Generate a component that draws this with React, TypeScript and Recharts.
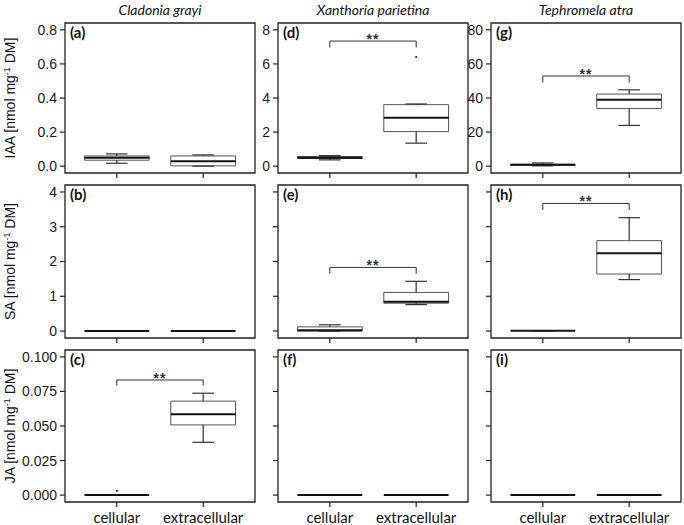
import React from 'react';
import {
  ComposedChart,
  XAxis,
  YAxis,
  Scatter,
  ReferenceLine,
  ReferenceArea,
  ReferenceDot,
} from 'recharts';

// ---------- data ----------
const categories = ['cellular', 'extracellular'];
const speciesTitles = ['Cladonia grayi', 'Xanthoria parietina', 'Tephromela atra'];
const hormoneLabels = ['IAA', 'SA', 'JA'];
const panelLetters = [
  ['(a)', '(d)', '(g)'],
  ['(b)', '(e)', '(h)'],
  ['(c)', '(f)', '(i)'],
];

// y ticks
const ticksIAAc = [0, 0.2, 0.4, 0.6, 0.8];
const ticksIAAx = [0, 2, 4, 6, 8];
const ticksIAAt = [0, 20, 40, 60, 80];
const ticksSA = [0, 1, 2, 3, 4];
const ticksJA = [0, 0.025, 0.05, 0.075, 0.1];

type Box = { x: number; low: number; q1: number; median: number; q3: number; high: number };

// box statistics per panel (cellular = 1, extracellular = 2)
const boxesA: Box[] = [
  { x: 1, low: 0.017, q1: 0.035, median: 0.049, q3: 0.06, high: 0.072 },
  { x: 2, low: 0.0, q1: 0.002, median: 0.029, q3: 0.06, high: 0.066 },
];
const boxesB: Box[] = [
  { x: 1, low: 0, q1: 0, median: 0, q3: 0, high: 0 },
  { x: 2, low: 0, q1: 0, median: 0, q3: 0, high: 0 },
];
const boxesC: Box[] = [
  { x: 1, low: 0, q1: 0, median: 0, q3: 0, high: 0 },
  { x: 2, low: 0.0382, q1: 0.0508, median: 0.0585, q3: 0.068, high: 0.0737 },
];
const boxesD: Box[] = [
  { x: 1, low: 0.37, q1: 0.45, median: 0.5, q3: 0.57, high: 0.62 },
  { x: 2, low: 1.35, q1: 2.03, median: 2.84, q3: 3.61, high: 3.65 },
];
const boxesE: Box[] = [
  { x: 1, low: 0, q1: 0, median: 0.02, q3: 0.12, high: 0.18 },
  { x: 2, low: 0.76, q1: 0.8, median: 0.84, q3: 1.11, high: 1.43 },
];
const boxesF: Box[] = [
  { x: 1, low: 0, q1: 0, median: 0, q3: 0, high: 0 },
  { x: 2, low: 0, q1: 0, median: 0, q3: 0, high: 0 },
];
const boxesG: Box[] = [
  { x: 1, low: 0.2, q1: 0.5, median: 0.8, q3: 1.1, high: 1.9 },
  { x: 2, low: 23.9, q1: 33.8, median: 39.0, q3: 42.3, high: 44.8 },
];
const boxesH: Box[] = [
  { x: 1, low: 0.01, q1: 0.01, median: 0.01, q3: 0.01, high: 0.01 },
  { x: 2, low: 1.48, q1: 1.64, median: 2.24, q3: 2.6, high: 3.26 },
];
const boxesI: Box[] = [
  { x: 1, low: 0, q1: 0, median: 0, q3: 0, high: 0 },
  { x: 2, low: 0, q1: 0, median: 0, q3: 0, high: 0 },
];

// outliers
const outliersC = [{ x: 1, y: 0.0032 }];
const outliersD = [{ x: 2, y: 6.4 }];
const noOutliers: { x: number; y: number }[] = [];

// significance brackets (top of bracket, bottom of legs)
type Sig = { top: number; leg: number } | null;
const sigC: Sig = { top: 0.0833, leg: 0.0792 };
const sigD: Sig = { top: 7.34, leg: 6.96 };
const sigE: Sig = { top: 1.83, leg: 1.65 };
const sigG: Sig = { top: 52.9, leg: 49.0 };
const sigH: Sig = { top: 3.67, leg: 3.48 };

// ---------- layout ----------
const colLeft = [65, 278, 491];
const colWidth = 190;
const rowTop = [23, 185, 350];
const rowHeight = [150, 153, 152];

const tickFont = "'Liberation Sans', Arial, sans-serif";
const textFont = "Lato, 'Open Sans', sans-serif";

const fmtIAAc = (v: number) => v.toFixed(1);
const fmtInt = (v: number) => String(v);
const fmtJA = (v: number) => v.toFixed(3);

type PanelProps = {
  left: number;
  top: number;
  w: number;
  h: number;
  yTicks: number[];
  fmt: (v: number) => string;
  showY: boolean;
  showX: boolean;
  boxes: Box[];
  outliers: { x: number; y: number }[];
  sig: Sig;
};

function Panel({ left, top, w, h, yTicks, fmt, showY, showX, boxes, outliers, sig }: PanelProps) {
  const max = yTicks[yTicks.length - 1];
  const pad = max * 0.05;
  const dom: [number, number] = [-pad, max + pad];
  const YW = 60;
  const MT = 5;
  const MR = 5;
  const XH = 30;
  const halfBox = 0.375;
  const halfCap = 0.125;
  const whisk = '#333';
  return (
    <div style={{ position: 'absolute', left: left - YW, top: top - MT }}>
      <ComposedChart
        width={YW + w + MR}
        height={MT + h + XH}
        margin={{ top: MT, right: MR, bottom: 0, left: 0 }}
      >
        <XAxis
          type="number"
          dataKey="x"
          domain={[0.4, 2.6]}
          ticks={[1, 2]}
          allowDataOverflow
          interval={0}
          axisLine={false}
          tickLine={{ stroke: '#222', strokeWidth: 1.2 }}
          tickSize={5}
          tickMargin={5}
          height={XH}
          tick={{ fill: '#111', fontSize: 15, fontFamily: textFont }}
          tickFormatter={(v: number) => (showX ? categories[v - 1] : '')}
        />
        <YAxis
          type="number"
          dataKey="y"
          domain={dom}
          ticks={yTicks}
          allowDataOverflow
          interval={0}
          axisLine={false}
          width={YW}
          tickLine={{ stroke: '#222', strokeWidth: 1.2 }}
          tickSize={5}
          tickMargin={3}
          tick={{ fill: '#1a1a1a', fontSize: 14, fontFamily: tickFont }}
          tickFormatter={(v: number) => (showY ? fmt(v) : '')}
        />
        {/* panel border */}
        <ReferenceArea
          x1={0.4}
          x2={2.6}
          y1={dom[0]}
          y2={dom[1]}
          fill="none"
          fillOpacity={0}
          stroke="#222"
          strokeWidth={1.3}
          ifOverflow="visible"
        />
        {boxes.map((b) => (
          <ReferenceLine
            key={`wl${b.x}`}
            segment={[{ x: b.x, y: b.low }, { x: b.x, y: b.q1 }]}
            stroke={whisk}
            strokeWidth={1.2}
            ifOverflow="visible"
          />
        ))}
        {boxes.map((b) => (
          <ReferenceLine
            key={`wh${b.x}`}
            segment={[{ x: b.x, y: b.q3 }, { x: b.x, y: b.high }]}
            stroke={whisk}
            strokeWidth={1.2}
            ifOverflow="visible"
          />
        ))}
        {boxes.map((b) => (
          <ReferenceLine
            key={`cl${b.x}`}
            segment={[{ x: b.x - halfCap, y: b.low }, { x: b.x + halfCap, y: b.low }]}
            stroke={whisk}
            strokeWidth={1.2}
            ifOverflow="visible"
          />
        ))}
        {boxes.map((b) => (
          <ReferenceLine
            key={`ch${b.x}`}
            segment={[{ x: b.x - halfCap, y: b.high }, { x: b.x + halfCap, y: b.high }]}
            stroke={whisk}
            strokeWidth={1.2}
            ifOverflow="visible"
          />
        ))}
        {boxes.map((b) => (
          <ReferenceArea
            key={`bx${b.x}`}
            x1={b.x - halfBox}
            x2={b.x + halfBox}
            y1={b.q1}
            y2={b.q3}
            fill="none"
            fillOpacity={0}
            stroke="#555"
            strokeWidth={1}
            ifOverflow="visible"
          />
        ))}
        {boxes.map((b) => (
          <ReferenceLine
            key={`md${b.x}`}
            segment={[{ x: b.x - halfBox, y: b.median }, { x: b.x + halfBox, y: b.median }]}
            stroke="#111"
            strokeWidth={2}
            ifOverflow="visible"
          />
        ))}
        {sig && (
          <ReferenceLine
            segment={[{ x: 1, y: sig.top }, { x: 2, y: sig.top }]}
            stroke="#333"
            strokeWidth={1}
            ifOverflow="visible"
          />
        )}
        {sig && (
          <ReferenceLine
            segment={[{ x: 1, y: sig.top }, { x: 1, y: sig.leg }]}
            stroke="#333"
            strokeWidth={1}
            ifOverflow="visible"
          />
        )}
        {sig && (
          <ReferenceLine
            segment={[{ x: 2, y: sig.top }, { x: 2, y: sig.leg }]}
            stroke="#333"
            strokeWidth={1}
            ifOverflow="visible"
          />
        )}
        {sig && (
          <ReferenceDot
            x={1.5}
            y={sig.top}
            r={0}
            ifOverflow="visible"
            shape={(p: any) => (
              <text
                x={p.cx}
                y={p.cy + 3}
                textAnchor="middle"
                fontSize={14}
                fontWeight="bold"
                fontFamily={tickFont}
                fill="#333"
                letterSpacing={1}
              >
                **
              </text>
            )}
          />
        )}
        <Scatter
          data={outliers}
          dataKey="y"
          fill="#111"
          isAnimationActive={false}
          shape={(p: any) => <circle cx={p.cx} cy={p.cy} r={1} fill="#111" />}
        />
      </ComposedChart>
    </div>
  );
}

const panelBoxes = [
  [boxesA, boxesD, boxesG],
  [boxesB, boxesE, boxesH],
  [boxesC, boxesF, boxesI],
];
const panelTicks = [
  [ticksIAAc, ticksIAAx, ticksIAAt],
  [ticksSA, ticksSA, ticksSA],
  [ticksJA, ticksJA, ticksJA],
];
const panelFmt = [
  [fmtIAAc, fmtInt, fmtInt],
  [fmtInt, fmtInt, fmtInt],
  [fmtJA, fmtJA, fmtJA],
];
const panelOutliers = [
  [noOutliers, outliersD, noOutliers],
  [noOutliers, noOutliers, noOutliers],
  [outliersC, noOutliers, noOutliers],
];
const panelSig: Sig[][] = [
  [null, sigD, sigG],
  [null, sigE, sigH],
  [sigC, null, null],
];

export default function App() {
  return (
    <div
      style={{
        position: 'absolute',
        left: 0,
        top: 0,
        width: 684,
        height: 525,
        background: '#fff',
        overflow: 'hidden',
      }}
    >
      {[0, 1, 2].map((r) =>
        [0, 1, 2].map((c) => (
          <Panel
            key={`${r}-${c}`}
            left={colLeft[c]}
            top={rowTop[r]}
            w={colWidth}
            h={rowHeight[r]}
            yTicks={panelTicks[r][c]}
            fmt={panelFmt[r][c]}
            showY={r === 0 || c === 0}
            showX={r === 2}
            boxes={panelBoxes[r][c]}
            outliers={panelOutliers[r][c]}
            sig={panelSig[r][c]}
          />
        ))
      )}
      <svg
        width={684}
        height={525}
        style={{ position: 'absolute', left: 0, top: 0, pointerEvents: 'none' }}
      >
        {speciesTitles.map((t, c) => (
          <text
            key={t}
            x={colLeft[c] + colWidth / 2}
            y={15}
            textAnchor="middle"
            fontSize={14}
            fontStyle="italic"
            fontFamily={textFont}
            fill="#111"
          >
            {t}
          </text>
        ))}
        {hormoneLabels.map((hname, r) => {
          const cy = rowTop[r] + rowHeight[r] / 2;
          return (
            <text
              key={hname}
              transform={`translate(15, ${cy}) rotate(-90)`}
              textAnchor="middle"
              fontSize={14}
              fontFamily={tickFont}
              fill="#111"
            >
              {hname} [nmol mg
              <tspan dy={-5} fontSize={9}>
                -1
              </tspan>
              <tspan dy={5}> DM]</tspan>
            </text>
          );
        })}
        {panelLetters.map((row, r) =>
          row.map((l, c) => (
            <text
              key={l}
              x={colLeft[c] + 5}
              y={rowTop[r] + 15}
              fontSize={15}
              fontWeight="bold"
              fontFamily={textFont}
              fill="#111"
            >
              {l}
            </text>
          ))
        )}
      </svg>
    </div>
  );
}
